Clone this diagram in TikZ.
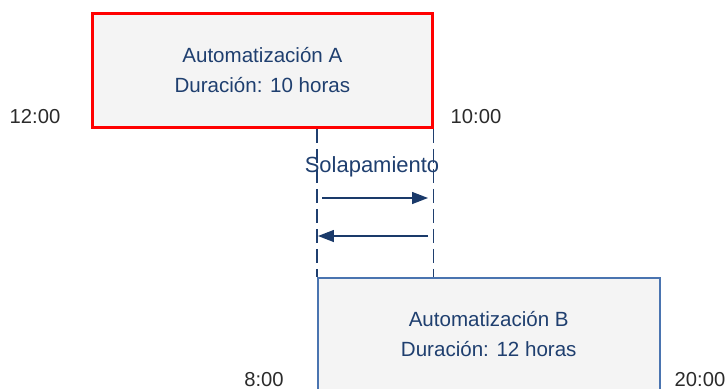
\documentclass[tikz,border=0pt]{standalone}
\usepackage{fontspec}
\setmainfont{Liberation Sans}
\usepackage{xcolor}
\usetikzlibrary{positioning,arrows.meta,calc}
\definecolor{redline}{HTML}{FF0000}
\definecolor{blueline}{HTML}{4A74B0}
\definecolor{boxfill}{HTML}{F4F4F4}
\definecolor{ink}{HTML}{1F3F6F}
\definecolor{navy}{HTML}{1A3A6A}
\definecolor{clock}{HTML}{2B2B2B}
\tikzset{
  taskA/.style = {draw=redline, fill=boxfill, line width=1.6pt, minimum width=6.8cm,
                  minimum height=2.28cm, inner sep=0pt, align=center, font=\fontsize{11.7}{17}\selectfont, text=ink},
  taskB/.style = {draw=blueline, fill=boxfill, line width=0.9pt, minimum width=6.84cm,
                  minimum height=2.24cm, inner sep=0pt, align=center, font=\fontsize{11.7}{17}\selectfont, text=ink},
  limit/.style = {draw=ink, line width=0.8pt, dash pattern=on 8pt off 3.4pt},
  span/.style  = {-{Triangle[length=3.2mm,width=2.4mm]}, draw=navy, line width=0.8pt},
  hour/.style  = {font=\fontsize{11.5}{13}\selectfont, text=clock},
  tag/.style   = {font=\fontsize{12.5}{14}\selectfont, text=ink},
}
\begin{document}
\begin{tikzpicture}[x=0.02cm,y=-0.02cm]
\useasboundingbox (0,0) rectangle (728,389);

% ------------------------------------------------------------------ the two runs
\node[taskA, anchor=north west] (runA) at (91,12)
  {Automatización A\\Duración: 10 horas};
\node[taskB, anchor=north west] (runB) at (317,277)
  {Automatización B\\Duración: 12 horas};

% ------------------------------------------------------------------ overlap limits
\coordinate (lA) at (runA.south west -| runB.north west);
\coordinate (rB) at (runB.north west -| runA.south east);
\draw[limit] (lA) -- (runB.north west);
\draw[limit] (runA.south east) -- (rB);

\node[tag] (lap) at (372,167) {Solapamiento};

\coordinate (go1) at (322,198);
\coordinate (go2) at (428,198);
\coordinate (ba1) at (428,236);
\coordinate (ba2) at (318,236);
\draw[span] (go1) -- (go2);
\draw[span] (ba1) -- (ba2);

% ------------------------------------------------------------------ clock times
\node[hour] (tA1) at (35,117)  {12:00};
\node[hour] (tA2) at (476,117) {10:00};
\node[hour] (tB1) at (264,380) {8:00};
\node[hour] (tB2) at (700,380) {20:00};

\end{tikzpicture}
\end{document}
